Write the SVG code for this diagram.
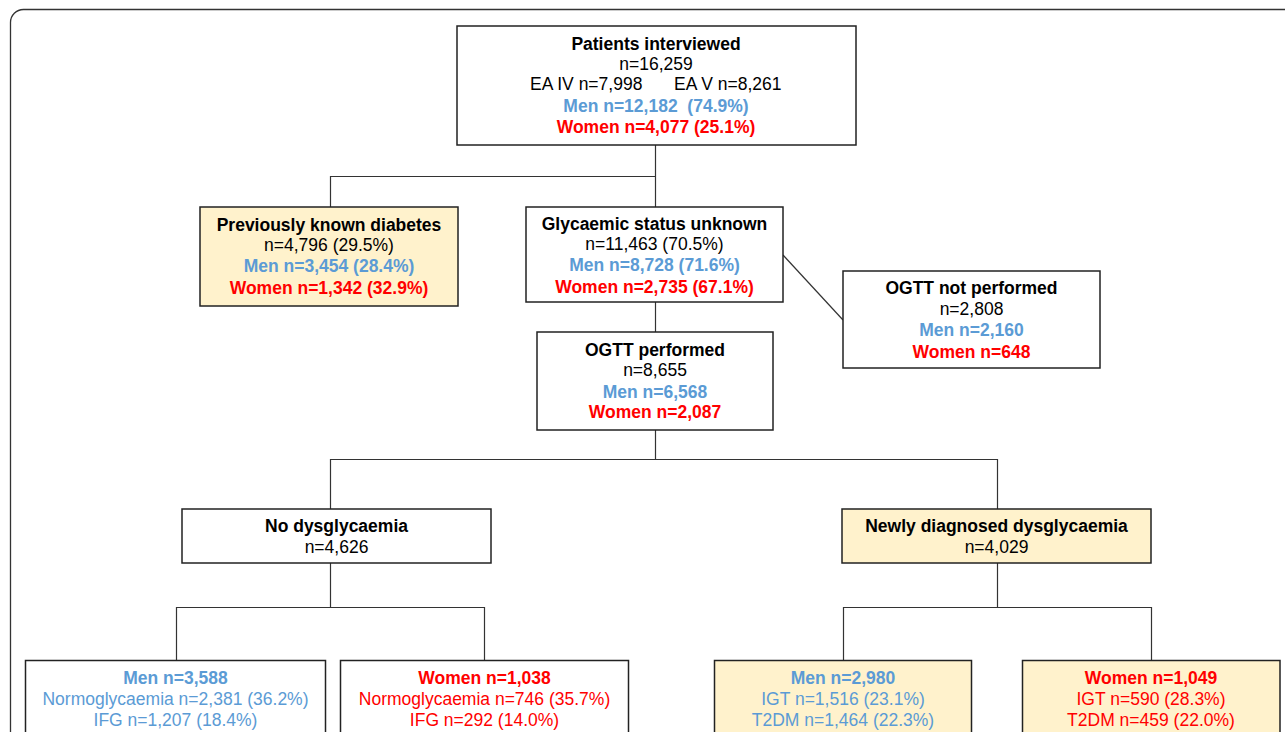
<svg xmlns="http://www.w3.org/2000/svg" width="1285" height="732" viewBox="0 0 1285 732">
<style>
text{font-family:"Liberation Sans",Arial,sans-serif;font-size:17.5px;text-anchor:middle;fill:#000}
.b{font-weight:bold}
.m{fill:#5b9bd5}
.w{fill:#ff0000}
.box{fill:#fff;stroke:#222;stroke-width:1.5}
.y{fill:#fff2cc}
.c{fill:none;stroke:#333;stroke-width:1.2}
</style>
<rect x="10.5" y="9.5" width="1300" height="760" rx="13" fill="#fff" stroke="#333" stroke-width="1.3"/>
<g id="connectors">
<path class="c" d="M655.5 145V207M330.5 176.5H655.5M330.5 176V207"/>
<path class="c" d="M783 255L843 320"/>
<path class="c" d="M655.5 302V332"/>
<path class="c" d="M655.5 430V459.5M330.5 459.5H997.5M330.5 459V509M997.5 459V509"/>
<path class="c" d="M330.5 563V607.5M176.5 607.5H484.5M176.5 607V660M484.5 607V660"/>
<path class="c" d="M997.5 563V607.5M843.5 607.5H1151.5M843.5 607V660M1151.5 607V660"/>
</g>
<g id="patients">
<rect class="box" x="457" y="26" width="399" height="119"/>
<text class="b" x="656" y="50">Patients interviewed</text>
<text x="656" y="70">n=16,259</text>
<text x="530" y="90" style="text-anchor:start">EA IV n=7,998</text>
<text x="674" y="90" style="text-anchor:start">EA V n=8,261</text>
<text class="b m" x="656" y="112" xml:space="preserve">Men n=12,182  (74.9%)</text>
<text class="b w" x="656" y="133">Women n=4,077 (25.1%)</text>
</g>
<g id="known">
<rect class="box y" x="200" y="207" width="258" height="99"/>
<text class="b" x="329" y="231">Previously known diabetes</text>
<text x="329" y="251">n=4,796 (29.5%)</text>
<text class="b m" x="329" y="272">Men n=3,454 (28.4%)</text>
<text class="b w" x="329" y="294">Women n=1,342 (32.9%)</text>
</g>
<g id="unknown">
<rect class="box" x="526" y="207" width="257" height="95"/>
<text class="b" x="654.5" y="230">Glycaemic status unknown</text>
<text x="654.5" y="250">n=11,463 (70.5%)</text>
<text class="b m" x="654.5" y="271">Men n=8,728 (71.6%)</text>
<text class="b w" x="654.5" y="293">Women n=2,735 (67.1%)</text>
</g>
<g id="ogtt-not">
<rect class="box" x="843" y="271" width="257" height="97"/>
<text class="b" x="971.5" y="294">OGTT not performed</text>
<text x="971.5" y="315">n=2,808</text>
<text class="b m" x="971.5" y="336">Men n=2,160</text>
<text class="b w" x="971.5" y="358">Women n=648</text>
</g>
<g id="ogtt">
<rect class="box" x="537" y="332" width="236" height="98"/>
<text class="b" x="655" y="356">OGTT performed</text>
<text x="655" y="376">n=8,655</text>
<text class="b m" x="655" y="398">Men n=6,568</text>
<text class="b w" x="655" y="418">Women n=2,087</text>
</g>
<g id="no-dys">
<rect class="box" x="182" y="509" width="309" height="54"/>
<text class="b" x="336.5" y="532">No dysglycaemia</text>
<text x="336.5" y="553">n=4,626</text>
</g>
<g id="new-dys">
<rect class="box y" x="842" y="509" width="309" height="54"/>
<text class="b" x="996.5" y="532">Newly diagnosed dysglycaemia</text>
<text x="996.5" y="553">n=4,029</text>
</g>
<g id="men-no">
<rect class="box" x="25.5" y="660.5" width="300" height="100"/>
<text class="b m" x="175.5" y="684">Men n=3,588</text>
<text class="m" x="175.5" y="705">Normoglycaemia n=2,381 (36.2%)</text>
<text class="m" x="175.5" y="726">IFG n=1,207 (18.4%)</text>
</g>
<g id="women-no">
<rect class="box" x="340.5" y="660.5" width="288" height="100"/>
<text class="b w" x="484.5" y="684">Women n=1,038</text>
<text class="w" x="484.5" y="705">Normoglycaemia n=746 (35.7%)</text>
<text class="w" x="484.5" y="726">IFG n=292 (14.0%)</text>
</g>
<g id="men-new">
<rect class="box y" x="714.5" y="660.5" width="257" height="100"/>
<text class="b m" x="843" y="684">Men n=2,980</text>
<text class="m" x="843" y="705">IGT n=1,516 (23.1%)</text>
<text class="m" x="843" y="726">T2DM n=1,464 (22.3%)</text>
</g>
<g id="women-new">
<rect class="box y" x="1022.5" y="660.5" width="257.5" height="100"/>
<text class="b w" x="1151" y="684">Women n=1,049</text>
<text class="w" x="1151" y="705">IGT n=590 (28.3%)</text>
<text class="w" x="1151" y="726">T2DM n=459 (22.0%)</text>
</g>
</svg>
